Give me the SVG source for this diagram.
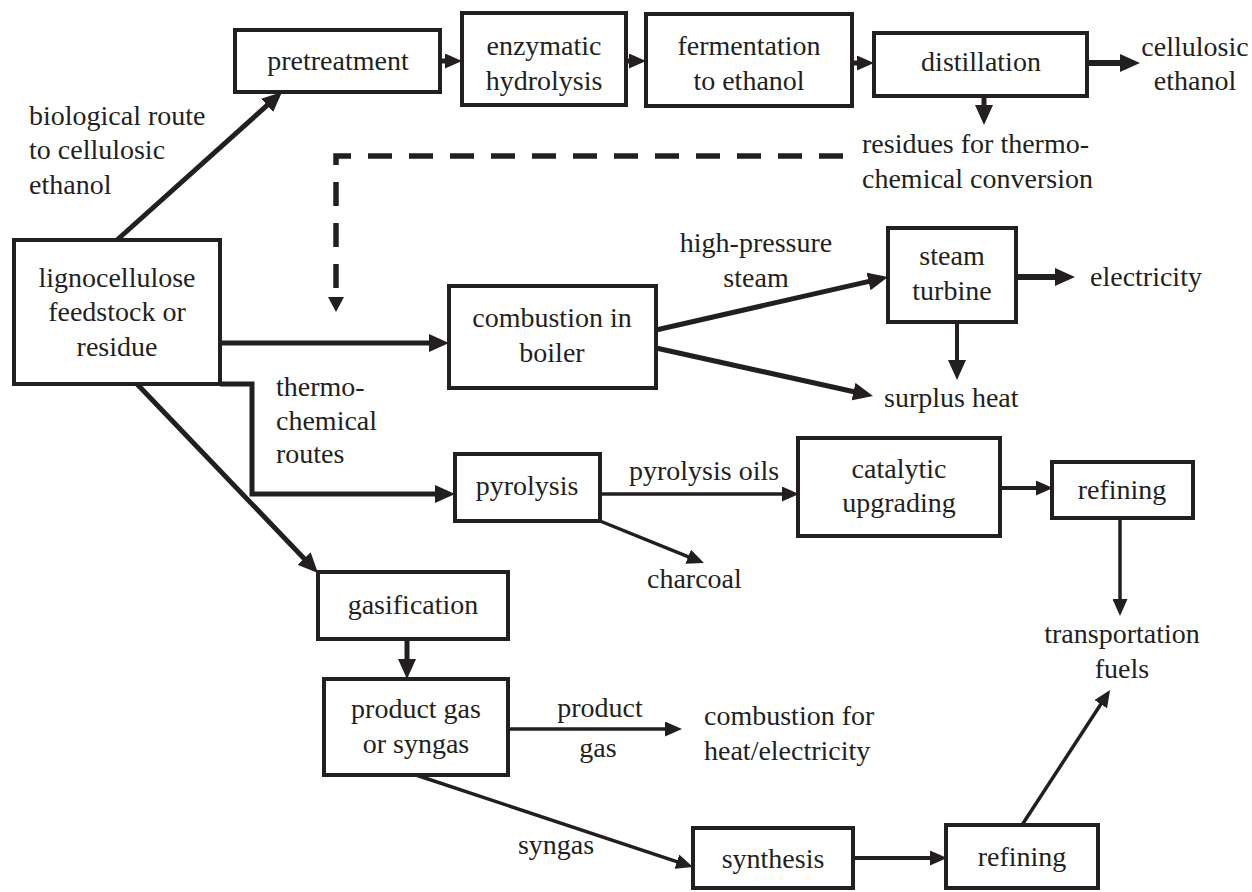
<svg xmlns="http://www.w3.org/2000/svg" width="1252" height="892" viewBox="0 0 1252 892">
<style>
rect.box{fill:#fff;stroke:#231f20;stroke-width:4}
text{font-family:"Liberation Serif","Times New Roman",serif;font-size:28px;fill:#231f20}
.c{text-anchor:middle}
.l{fill:none;stroke:#231f20;stroke-linecap:butt;stroke-linejoin:miter}
.t6{stroke-width:6}.t5{stroke-width:5}.t4{stroke-width:4}.t3{stroke-width:3.5}
</style>
<defs>
<marker id="ab" markerUnits="userSpaceOnUse" markerWidth="20" markerHeight="18" refX="4" refY="9" orient="auto"><path d="M0,0 L20,9 L0,18 z" fill="#231f20"/></marker>
<marker id="as" markerUnits="userSpaceOnUse" markerWidth="17" markerHeight="15" refX="3" refY="7.5" orient="auto"><path d="M0,0 L17,7.5 L0,15 z" fill="#231f20"/></marker>
</defs>
<g id="connectors">
<line class="l t5" x1="117" y1="240" x2="270.1" y2="102.7" marker-end="url(#ab)"/>
<line class="l t5" x1="440" y1="61" x2="448" y2="61" marker-end="url(#as)"/>
<line class="l t5" x1="626" y1="61" x2="632" y2="61" marker-end="url(#as)"/>
<line class="l t5" x1="852" y1="63" x2="860" y2="63" marker-end="url(#as)"/>
<line class="l t6" x1="1087" y1="63" x2="1124" y2="63" marker-end="url(#ab)"/>
<line class="l t5" x1="984" y1="96" x2="984" y2="109" marker-end="url(#ab)"/>
<path class="l" d="M843,156 H336 V290" stroke-width="5.5" stroke-dasharray="24 17"/>
<polygon points="328,297 344,297 336,312" fill="#231f20"/>
<line class="l t5" x1="220" y1="343" x2="433" y2="343" marker-end="url(#ab)"/>
<path class="l t5" d="M220,384 H252 V494 H439" marker-end="url(#ab)"/>
<line class="l t5" x1="137" y1="384" x2="306.9" y2="561.4" marker-end="url(#ab)"/>
<line class="l t5" x1="656" y1="330" x2="872.4" y2="280.6" marker-end="url(#ab)"/>
<line class="l t5" x1="656" y1="348" x2="857.4" y2="392.5" marker-end="url(#ab)"/>
<line class="l t6" x1="1016" y1="277" x2="1059" y2="277" marker-end="url(#ab)"/>
<line class="l t4" x1="957" y1="322" x2="957" y2="364" marker-end="url(#ab)"/>
<line class="l t3" x1="600" y1="494" x2="785" y2="494" marker-end="url(#as)"/>
<line class="l t3" x1="600" y1="521" x2="691" y2="557.8" marker-end="url(#as)"/>
<line class="l t4" x1="1000" y1="488" x2="1039" y2="488" marker-end="url(#as)"/>
<line class="l t3" x1="1120" y1="518" x2="1120" y2="602" marker-end="url(#as)"/>
<line class="l t5" x1="407" y1="639" x2="407" y2="663" marker-end="url(#ab)"/>
<line class="l t3" x1="508" y1="729" x2="668" y2="729" marker-end="url(#as)"/>
<line class="l t3" x1="416" y1="775" x2="679.7" y2="862.6" marker-end="url(#as)"/>
<line class="l t4" x1="853" y1="858" x2="933" y2="858" marker-end="url(#as)"/>
<line class="l t3" x1="1022" y1="825" x2="1102.4" y2="701.7" marker-end="url(#as)"/>
</g>
<g id="pretreatment"><rect class="box" x="235" y="30" width="205" height="62"/><text class="c" x="338" y="70">pretreatment</text></g>
<g id="enzymatic"><rect class="box" x="462" y="13" width="164" height="92"/><text class="c" x="544" y="55">enzymatic</text><text class="c" x="544" y="90">hydrolysis</text></g>
<g id="fermentation"><rect class="box" x="646" y="14" width="206" height="92"/><text class="c" x="749" y="55">fermentation</text><text class="c" x="749" y="90">to ethanol</text></g>
<g id="distillation"><rect class="box" x="874" y="33" width="213" height="63"/><text class="c" x="981" y="71">distillation</text></g>
<g id="cellulosic-ethanol"><text class="c" x="1195" y="56">cellulosic</text><text class="c" x="1195" y="90">ethanol</text></g>
<g id="residues"><text x="862" y="153">residues for thermo-</text><text x="862" y="188">chemical conversion</text></g>
<g id="biological-label"><text x="29" y="125">biological route</text><text x="29" y="159">to cellulosic</text><text x="29" y="194">ethanol</text></g>
<g id="lignocellulose"><rect class="box" x="14" y="240" width="206" height="144"/><text class="c" x="117" y="287">lignocellulose</text><text class="c" x="117" y="321">feedstock or</text><text class="c" x="117" y="356">residue</text></g>
<g id="combustion"><rect class="box" x="449" y="286" width="207" height="102"/><text class="c" x="552" y="327">combustion in</text><text class="c" x="552" y="362">boiler</text></g>
<g id="hp-steam-label"><text class="c" x="756" y="252">high-pressure</text><text class="c" x="756" y="287">steam</text></g>
<g id="steam-turbine"><rect class="box" x="888" y="228" width="128" height="94"/><text class="c" x="952" y="265">steam</text><text class="c" x="952" y="300">turbine</text></g>
<g id="electricity"><text x="1090" y="286">electricity</text></g>
<g id="surplus-heat"><text x="884" y="407">surplus heat</text></g>
<g id="thermo-label"><text x="276" y="396">thermo-</text><text x="276" y="430">chemical</text><text x="276" y="463">routes</text></g>
<g id="pyrolysis"><rect class="box" x="455" y="454" width="145" height="67"/><text class="c" x="527" y="495">pyrolysis</text></g>
<g id="pyrolysis-oils-label"><text x="629" y="480">pyrolysis oils</text></g>
<g id="catalytic"><rect class="box" x="798" y="438" width="202" height="98"/><text class="c" x="899" y="478">catalytic</text><text class="c" x="899" y="512">upgrading</text></g>
<g id="refining-top"><rect class="box" x="1052" y="462" width="141" height="56"/><text class="c" x="1122" y="499">refining</text></g>
<g id="charcoal"><text x="647" y="588">charcoal</text></g>
<g id="transportation-fuels"><text class="c" x="1122" y="643">transportation</text><text class="c" x="1122" y="678">fuels</text></g>
<g id="gasification"><rect class="box" x="318" y="572" width="190" height="67"/><text class="c" x="413" y="614">gasification</text></g>
<g id="product-gas"><rect class="box" x="324" y="679" width="184" height="96"/><text class="c" x="416" y="718">product gas</text><text class="c" x="416" y="753">or syngas</text></g>
<g id="product-gas-label"><text class="c" x="600" y="717">product</text><text class="c" x="598" y="757">gas</text></g>
<g id="combustion-for"><text x="704" y="725">combustion for</text><text x="704" y="760">heat/electricity</text></g>
<g id="syngas-label"><text class="c" x="556" y="854">syngas</text></g>
<g id="synthesis"><rect class="box" x="693" y="828" width="160" height="60"/><text class="c" x="773" y="868">synthesis</text></g>
<g id="refining-bottom"><rect class="box" x="946" y="825" width="152" height="63"/><text class="c" x="1022" y="866">refining</text></g>
</svg>
